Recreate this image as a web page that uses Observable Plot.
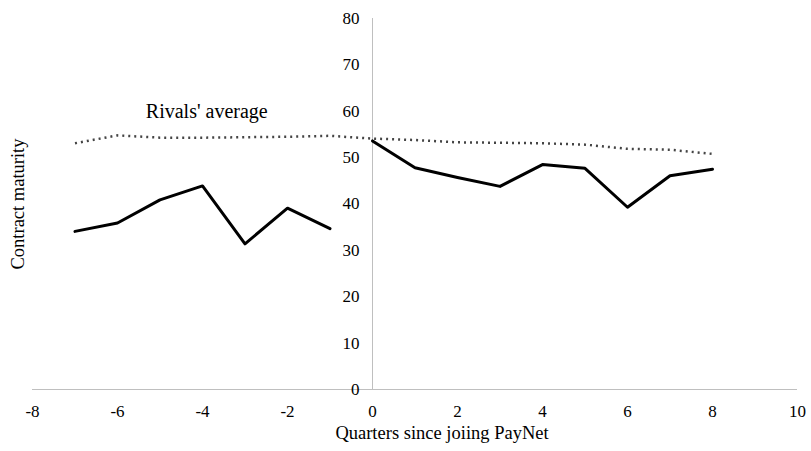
<!DOCTYPE html>
<html>
<head>
<meta charset="utf-8">
<script src="https://cdn.jsdelivr.net/npm/d3@7"></script>
<script src="https://cdn.jsdelivr.net/npm/@observablehq/plot@0.6"></script>
<style>
  html, body { margin: 0; padding: 0; background: #fff; }
  svg text { font-family: "Liberation Serif", "Times New Roman", serif !important; }
</style>
</head>
<body>
<div id="chart"></div>
<script>
// Quarters since joining PayNet
const quartersBefore = [-7, -6, -5, -4, -3, -2, -1];
const quartersAfter = [0, 1, 2, 3, 4, 5, 6, 7, 8];
// Firm's contract maturity (solid line, two segments)
const firmBefore = [34.1, 35.9, 40.9, 43.9, 31.4, 39.1, 34.7];
const firmAfter = [53.6, 47.8, 45.7, 43.8, 48.5, 47.7, 39.3, 46.1, 47.5];
// Rivals' average (dotted line)
const rivalsQuarters = [-7, -6, -5, -4, -3, -2, -1, 0, 1, 2, 3, 4, 5, 6, 7, 8];
const rivalsAvg = [53.1, 54.8, 54.3, 54.3, 54.4, 54.5, 54.7, 54.1, 53.8, 53.3, 53.2, 53.1, 52.8, 51.9, 51.7, 50.8];
// Axis ticks
const xTicks = [-8, -6, -4, -2, 0, 2, 4, 6, 8, 10];
const yTicks = [0, 10, 20, 30, 40, 50, 60, 70, 80];
// Annotation and titles
const annotationLabel = ["Rivals' average"];
const annotationX = [-3.9];
const annotationY = [60];
const xTitle = ["Quarters since joiing PayNet"];
const yTitle = ["Contract maturity"];

const firm = [
  ...quartersBefore.map((q, i) => ({q, v: firmBefore[i], seg: "before"})),
  ...quartersAfter.map((q, i) => ({q, v: firmAfter[i], seg: "after"}))
];
const rivals = rivalsQuarters.map((q, i) => ({q, v: rivalsAvg[i]}));
const annotations = annotationLabel.map((t, i) => ({t, x: annotationX[i], y: annotationY[i]}));

const serif = "Liberation Serif";

const chart = Plot.plot({
  width: 811,
  height: 451,
  marginLeft: 32,
  marginRight: 14,
  marginTop: 18,
  marginBottom: 62,
  style: {fontFamily: serif, fontSize: "17px", color: "#000", background: "#fff"},
  x: {domain: [-8, 10]},
  y: {domain: [0, 80], axis: null},
  marks: [
    Plot.ruleY([0], {stroke: "#bfbfbf", strokeWidth: 1}),
    Plot.ruleX([0], {y1: 0, y2: 80, stroke: "#bfbfbf", strokeWidth: 1}),
    Plot.axisX({
      ticks: xTicks,
      tickSize: 0,
      tickPadding: 15,
      tickFormat: d => String(d),
      fontSize: 17,
      fontFamily: serif,
      label: null
    }),
    Plot.text(xTitle, {
      frameAnchor: "bottom", textAnchor: "middle", dx: 27, dy: 49, fontSize: 18.5, fontFamily: serif, fill: "#000"
    }),
    Plot.text(yTicks, {x: () => 0, y: d => d, text: d => String(d), textAnchor: "end", dx: -13, fontSize: 17, fontFamily: serif, fill: "#000"}),
    Plot.text(yTitle, {
      frameAnchor: "left", textAnchor: "middle", dx: -14, rotate: -90, fontSize: 18.5, fontFamily: serif, fill: "#000"
    }),
    Plot.line(rivals, {x: "q", y: "v", stroke: "#444", strokeWidth: 2.5, strokeDasharray: "2,4", strokeLinecap: "butt"}),
    Plot.line(firm, {x: "q", y: "v", z: "seg", stroke: "#000", strokeWidth: 3}),
    Plot.text(annotations, {x: "x", y: "y", text: "t", fontSize: 20, fontFamily: serif, fill: "#000"})
  ]
});
document.getElementById("chart").appendChild(chart);
</script>
</body>
</html>
